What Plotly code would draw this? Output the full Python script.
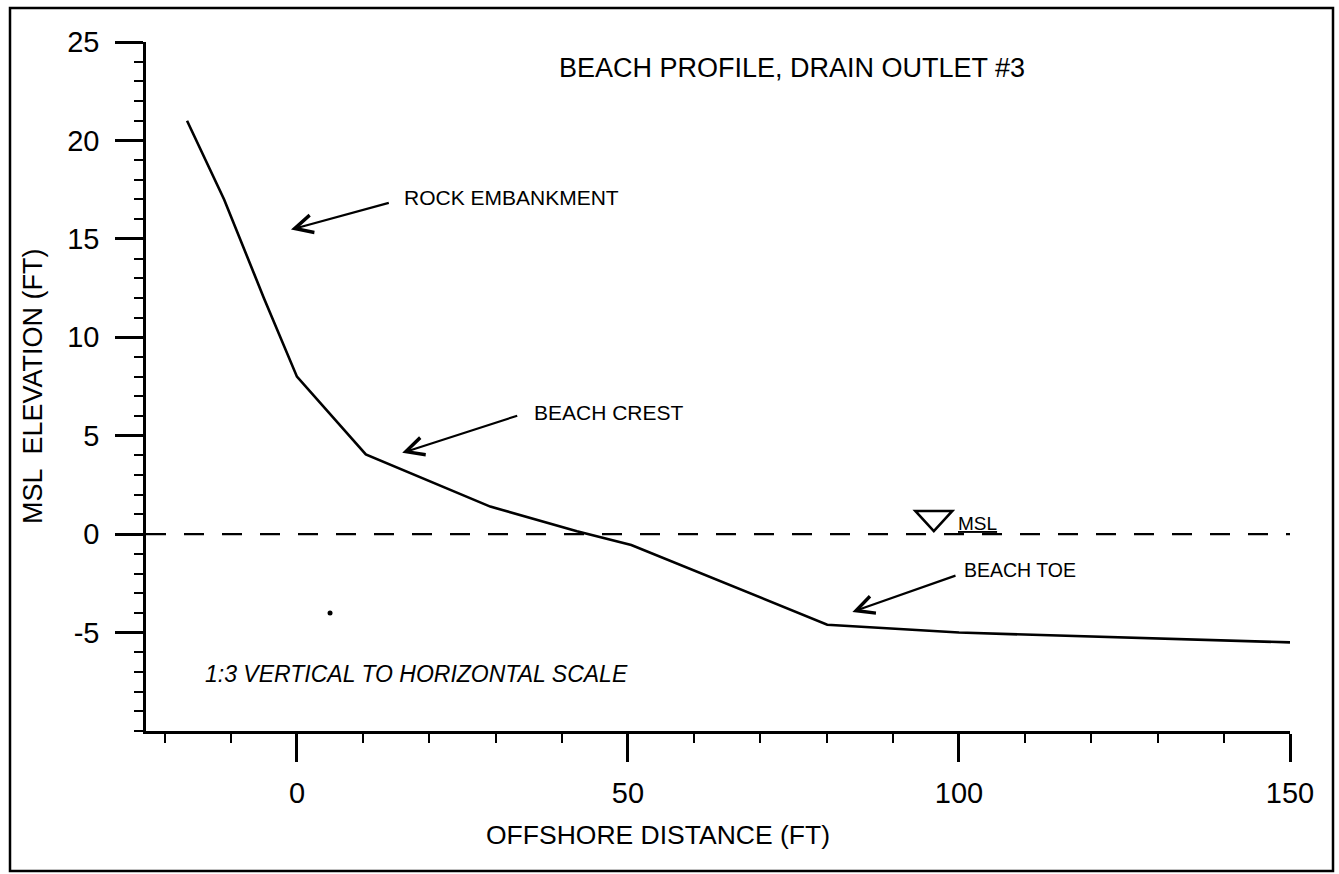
import plotly.graph_objects as go

# Surveyed beach profile at drain outlet #3
offshore_ft = [-16.6, -11.0, -5.0, 0.0, 10.4, 29.2, 42.3, 50.5, 80.1, 100.0, 150.0]
elev_ft = [21.0, 17.0, 12.0, 8.0, 4.05, 1.4, 0.15, -0.55, -4.6, -5.0, -5.5]

# Isolated survey point
spot_x = [5.0]
spot_y = [-4.0]

msl_level = 0.0
x_ticks = [0, 50, 100, 150]
y_ticks = [-5, 0, 5, 10, 15, 20, 25]

W, H = 1339, 874
ML, MR, MT, MB = 146, 49, 42, 143
FONT = "Liberation Sans, Arial, sans-serif"
X_RANGE = [-22.8, 150]
Y_RANGE = [-10, 25]

pw = W - ML - MR
ph = H - MT - MB


def px_to_paper(px, py):
    return (px - ML) / pw, (H - MB - py) / ph


fig = go.Figure()

# mean sea level reference
fig.add_trace(go.Scatter(
    x=[X_RANGE[0], X_RANGE[1]], y=[msl_level, msl_level], mode="lines",
    line=dict(color="black", width=2.2, dash="20px,18px"),
    hoverinfo="skip", showlegend=False, cliponaxis=False,
))

fig.add_trace(go.Scatter(
    x=offshore_ft, y=elev_ft, mode="lines",
    line=dict(color="black", width=2.6),
    showlegend=False,
))

fig.add_trace(go.Scatter(
    x=spot_x, y=spot_y, mode="markers",
    marker=dict(color="black", size=5),
    showlegend=False,
))

axis_common = dict(
    showgrid=False, zeroline=False, showline=True,
    linecolor="black", linewidth=2.5,
    ticks="outside", ticklen=28, tickwidth=2.5, tickcolor="black",
    tickfont=dict(family=FONT, size=29, color="black"),
    mirror=False,
)

fig.update_xaxes(
    range=X_RANGE, tickmode="array", tickvals=x_ticks,
    ticktext=[str(v) for v in x_ticks],
    minor=dict(dtick=10, tick0=0, ticks="outside", ticklen=9,
               tickwidth=2.2, tickcolor="black", showgrid=False),
    ticklabelstandoff=6,
    **axis_common,
)
fig.update_yaxes(
    range=Y_RANGE, tickmode="array", tickvals=y_ticks,
    ticktext=[str(v) for v in y_ticks],
    minor=dict(dtick=1, tick0=0, ticks="outside", ticklen=9,
               tickwidth=2.2, tickcolor="black", showgrid=False),
    ticklabelstandoff=10,
    **axis_common,
)

# outer border
x0, y0 = px_to_paper(10, 871)
x1, y1 = px_to_paper(1333, 8)
fig.add_shape(type="rect", xref="paper", yref="paper",
              x0=x0, y0=y0, x1=x1, y1=y1,
              line=dict(color="black", width=2.5), layer="above")

# MSL water-level symbol
fig.add_shape(type="path", xref="x", yref="y",
              path="M 93.4,1.18 L 99.0,1.18 L 96.2,0.15 Z",
              line=dict(color="black", width=2.5))

notes = [
    ("ROCK EMBANKMENT", 21, 15.9, 17.1, 14.1, 16.85, -0.9, 15.47),
    ("BEACH CREST", 21, 35.5, 6.17, 33.5, 6.04, 15.9, 4.13),
    ("BEACH TOE", 19.5, 100.5, -1.83, 99.7, -2.08, 83.9, -3.95),
]
for text, size, tx, ty, ax, ay, hx, hy in notes:
    fig.add_annotation(x=tx, y=ty, text=text, showarrow=False,
                       xanchor="left", yanchor="middle",
                       font=dict(family=FONT, size=size, color="black"))
    fig.add_annotation(x=hx, y=hy, ax=ax, ay=ay, axref="x", ayref="y",
                       text="", showarrow=True, arrowhead=5, arrowsize=1.6,
                       arrowwidth=2.2, arrowcolor="black", standoff=0,
                       startstandoff=0)

fig.add_annotation(x=99.6, y=0.55, text="<u>MSL</u>", showarrow=False,
                   xanchor="left", yanchor="middle",
                   font=dict(family=FONT, size=19, color="black"))

fig.add_annotation(x=-14.2, y=-7.1, text="<i>1:3 VERTICAL TO HORIZONTAL SCALE</i>",
                   showarrow=False, xanchor="left", yanchor="middle",
                   font=dict(family=FONT, size=23, color="black"))

# chart title and axis titles
tx, ty = px_to_paper(792, 68)
fig.add_annotation(xref="paper", yref="paper", x=tx, y=ty,
                   text="BEACH PROFILE, DRAIN OUTLET #3", showarrow=False,
                   xanchor="center", yanchor="middle",
                   font=dict(family=FONT, size=27, color="black"))

tx, ty = px_to_paper(658, 835)
fig.add_annotation(xref="paper", yref="paper", x=tx, y=ty,
                   text="OFFSHORE DISTANCE (FT)", showarrow=False,
                   xanchor="center", yanchor="middle",
                   font=dict(family=FONT, size=26.5, color="black"))

tx, ty = px_to_paper(33, 386)
fig.add_annotation(xref="paper", yref="paper", x=tx, y=ty,
                   text="MSL  ELEVATION (FT)", showarrow=False, textangle=-90,
                   xanchor="center", yanchor="middle",
                   font=dict(family=FONT, size=27, color="black"))

fig.update_layout(
    width=W, height=H, autosize=False,
    margin=dict(l=ML, r=MR, t=MT, b=MB),
    paper_bgcolor="white", plot_bgcolor="white",
    showlegend=False,
)

fig.write_html("out.html")
